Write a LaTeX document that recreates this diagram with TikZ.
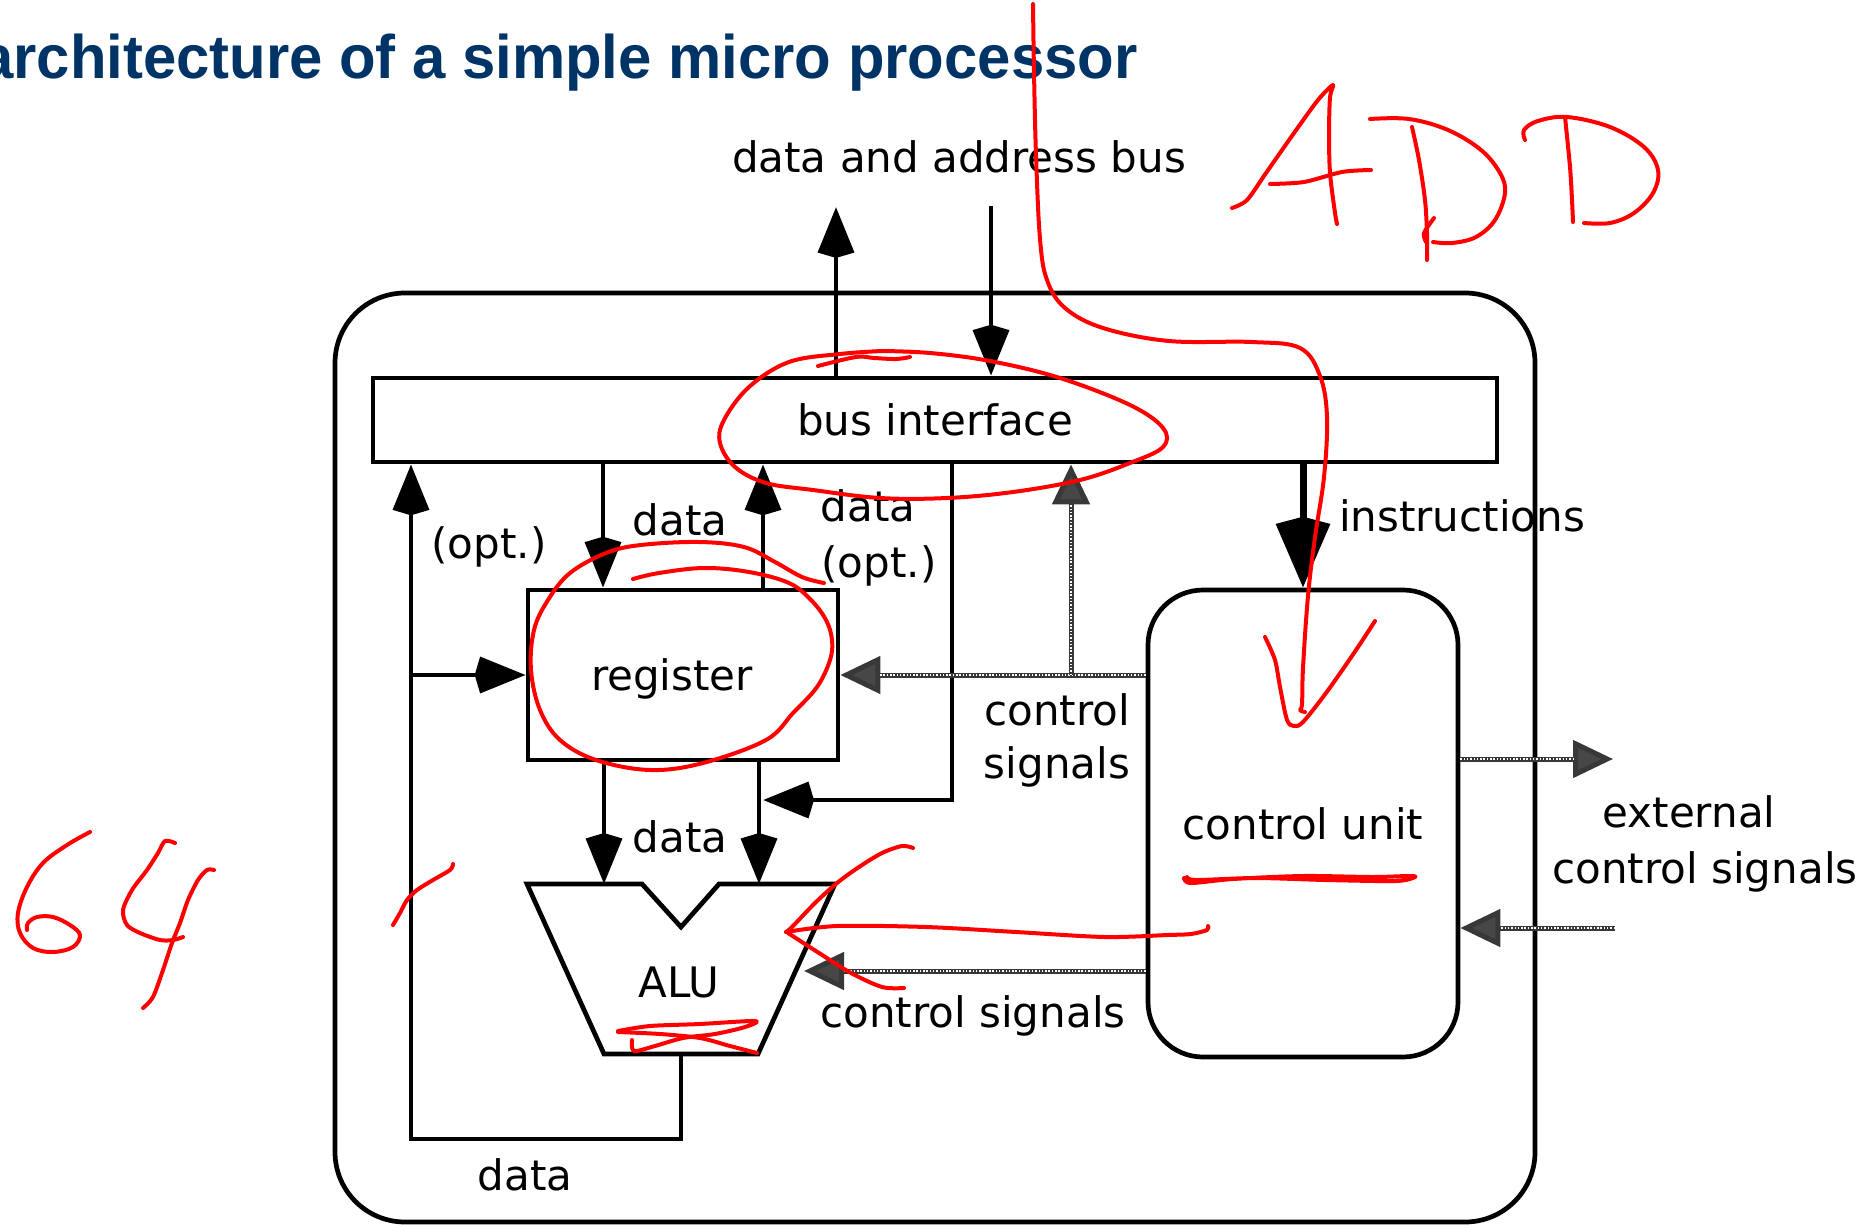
\documentclass[tikz,border=0pt]{standalone}
\usepackage{fontspec}
\usepackage{graphicx}
\setmainfont{DejaVu Sans}
\newfontfamily\headfont{Liberation Sans}
\usetikzlibrary{arrows.meta}

\definecolor{headblue}{RGB}{0,51,102}
\definecolor{pen}{RGB}{255,0,0}

\tikzset{
  wire/.style={line width=4.7pt, line join=miter},
  arr/.style={wire, -{Stealth[length=45pt, width=35pt, inset=-6pt]}},
  bigarr/.style={line width=7pt, -{Stealth[length=63pt, width=52pt, inset=-8pt]}},
  ctl/.style={line width=5pt, draw=black!78,
    -{Triangle[length=40pt, width=37pt, fill=black!72]},
    postaction={draw=white, line width=1.3pt, dash pattern=on 1.5pt off 1.8pt,
      arrows=-, shorten >=40pt}},
  box/.style={draw, line width=4.7pt, inner sep=0pt, font=\fontsize{42pt}{55pt}\selectfont},
  lbl/.style={inner sep=0pt, anchor=base, font=\fontsize{42pt}{55pt}\selectfont},
  ink/.style={draw=pen, line width=4pt, line cap=round, line join=round}
}

\begin{document}
\begin{tikzpicture}[x=1pt, y=-1pt]
\useasboundingbox (0,0) rectangle (1870,1225);

% heading
\node[inner sep=0pt, anchor=base west, text=headblue,
      font=\headfont\bfseries\fontsize{61.5pt}{70pt}\selectfont] (head) at (-20,79)
  {\scalebox{0.973}[1]{architecture of a simple micro processor}};

% processor frame and blocks
\node[draw, line width=4.7pt, rounded corners=70pt, minimum width=1200pt,
      minimum height=929pt, inner sep=0pt] (outer) at (935,757.5) {};
\node[box, minimum width=1124pt, minimum height=84pt] (busif) at (935,420) {bus interface};
\node[box, minimum width=310pt, minimum height=170pt] (reg) at (683,675) {};
\node[lbl] (reglbl) at (672,690) {register};
\node[box, rounded corners=55pt, minimum width=310pt, minimum height=467pt] (cu)
  at (1303,823.5) {control unit};

% ALU outline
\coordinate (alu-tl) at (527,884);
\coordinate (alu-nl) at (642,884);
\coordinate (alu-nb) at (681,927);
\coordinate (alu-nr) at (719,884);
\coordinate (alu-tr) at (835,884);
\coordinate (alu-br) at (758,1054);
\coordinate (alu-bl) at (604,1054);
\draw[wire] (alu-tl) -- (alu-nl) -- (alu-nb) -- (alu-nr) -- (alu-tr) -- (alu-br) -- (alu-bl) -- cycle;
\node[lbl] (alulbl) at (679,997) {ALU};
\coordinate (alu-in1) at (604,884);
\coordinate (alu-in2) at (759,884);
\coordinate (alu-out) at (681,1054);
\coordinate (alu-ctl) at (804,971);

% external bus
\coordinate (busout) at (836,207);
\coordinate (busin) at (991,206);
\draw[arr] (busout |- busif.north) -- (busout);
\draw[arr] (busin) -- (busin |- busif.north);
\node[lbl] (buslbl) at (959,173) {data and address bus};

% data paths
\coordinate (xa) at (603,0);
\coordinate (xb) at (763,0);
\coordinate (xc) at (952,0);
\coordinate (optin) at (763,800);
\draw[arr] (busif.south -| xa) -- (reg.north -| xa);
\draw[arr] (reg.north -| xb) -- (busif.south -| xb);
\draw[arr] (busif.south -| xc) |- (optin);
\draw[arr] (reg.south -| alu-in1) -- (alu-in1);
\draw[arr] (reg.south -| alu-in2) -- (alu-in2);

% result feedback
\coordinate (loop-br) at (681,1139);
\coordinate (loop-bl) at (411,1139);
\coordinate (loop-j) at (411,675);
\draw[arr] (alu-out) -- (loop-br) -- (loop-bl) -- (busif.south -| loop-bl);
\draw[arr] (loop-j) -- (reg.west);

% instructions
\draw[bigarr] (busif.south -| cu.north) -- (cu.north);
\node[lbl] (instlbl) at (1462,531) {instructions};

% control signals
\coordinate (hj) at (1071,675);
\draw[ctl] (cu.west |- reg.east) -- (reg.east);
\draw[ctl] (hj) -- (busif.south -| hj);
\draw[ctl] (cu.west |- alu-ctl) -- (alu-ctl);
\coordinate (extout) at (1613,759);
\coordinate (extin) at (1615,928);
\draw[ctl] (cu.east |- extout) -- (extout);
\draw[ctl] (extin) -- (cu.east |- extin);

% labels
\node[lbl] (l-opt) at (489,558) {(opt.)};
\node[lbl] (l-d1) at (680,535) {data};
\node[lbl] (l-d2) at (868,521) {data};
\node[lbl] (l-opt2) at (879,577) {(opt.)};
\node[lbl] (l-cs1) at (1057,725) {control};
\node[lbl] (l-cs2) at (1057,778) {signals};
\node[lbl] (l-d3) at (680,852) {data};
\node[lbl] (l-cs3) at (973,1027) {control signals};
\node[lbl] (l-ext1) at (1689,827) {external};
\node[lbl] (l-ext2) at (1705,883) {control signals};
\node[lbl] (l-d4) at (525,1190) {data};

% handwritten pen marks
\draw[ink] plot[smooth, tension=0.6] coordinates {(1033,4) (1034,72) (1036,155) (1040,239)
  (1047,280) (1065,308) (1103,328) (1169,341) (1252,342) (1300,348) (1320,376) (1327,417)
  (1324,477) (1315,537) (1308,596) (1303,668) (1302,704) (1300,710) (1305,712)};
\draw[ink] plot[smooth, tension=0.5] coordinates {(1265,637) (1275,660) (1280,687) (1287,720)
  (1294,726) (1303,722) (1326,693) (1354,653) (1375,621)};
% A
\draw[ink] plot[smooth, tension=0.5] coordinates {(1232,208) (1247,200) (1266,173) (1294,133)
  (1318,100) (1333,85) (1330,97) (1329,133) (1330,173) (1335,213) (1337,224)};
\draw[ink] plot[smooth, tension=0.5] coordinates {(1270,184) (1304,182) (1342,172) (1371,170)};
% D
\draw[ink] plot[smooth, tension=0.5] coordinates {(1412,127) (1419,160) (1425,200) (1427,233) (1427,260)};
\draw[ink] plot[smooth, tension=0.5] coordinates {(1434,218) (1424,233) (1426,242)};
\draw[ink] plot[smooth, tension=0.6] coordinates {(1370,119) (1409,119) (1448,130) (1481,150)
  (1500,173) (1505,193) (1495,220) (1476,237) (1452,243) (1433,242)};
% D
\draw[ink] plot[smooth, tension=0.5] coordinates {(1565,117) (1570,167) (1572,200) (1573,222)};
\draw[ink] plot[smooth, tension=0.6] coordinates {(1525,140) (1524,130) (1538,121) (1567,117)
  (1610,127) (1644,147) (1658,170) (1653,193) (1634,213) (1610,223) (1584,223)};
% loop round the bus interface
\draw[ink] plot[smooth, tension=0.6] coordinates {(818,366) (856,357) (874,358) (896,359) (910,357)};
\draw[ink] plot[smooth, tension=0.6] coordinates {(882,351) (930,353) (990,361) (1060,378)
  (1130,405) (1163,428) (1163,447) (1130,463) (1080,480) (1013,492) (947,498) (880,498)
  (813,490) (766,483) (735,467) (720,443) (724,420) (749,387) (789,362) (840,354) (882,351)};
% loop round the register
\draw[ink] plot[smooth, tension=0.6] coordinates {(633,579) (659,573) (704,568) (749,572)
  (789,583) (811,600) (826,620) (832,640) (830,660) (817,687) (793,713) (766,740) (703,763)
  (650,770) (596,760) (560,740) (540,710) (531,670) (534,630) (548,600) (570,573) (606,553)
  (641,545) (699,542) (744,547) (775,562) (802,577) (824,583)};
% arrow mark beside the ALU
\draw[ink] plot[smooth, tension=0.5] coordinates {(913,848) (902,846) (882,853) (859,867)
  (837,883) (815,903) (792,927) (786,932)};
\draw[ink] plot[smooth, tension=0.5] coordinates {(786,932) (837,926) (926,927) (1016,932)
  (1105,937) (1168,935) (1191,934) (1207,930) (1208,926)};
\draw[ink] plot[smooth, tension=0.5] coordinates {(788,933) (819,953) (851,973) (882,987) (904,988)};
% crossing-out in the ALU
\draw[ink] plot[smooth, tension=0.5] coordinates {(618,1031) (650,1026) (700,1024) (755,1021)
  (745,1027) (715,1034) (683,1038) (655,1046) (634,1051) (632,1040)};
\draw[ink] plot[smooth, tension=0.5] coordinates {(618,1032) (660,1034) (700,1038) (730,1046) (757,1053)};
% underline below control unit
\draw[ink] plot[smooth, tension=0.5] coordinates {(1184,878) (1191,883) (1233,879) (1303,876)
  (1373,877) (1408,876) (1415,877) (1396,881) (1326,880) (1256,878) (1196,880) (1187,877)};
% 6
\draw[ink] plot[smooth, tension=0.6] coordinates {(90,832) (67,845) (43,863) (27,887) (18,913)
  (20,933) (33,948) (53,952) (73,947) (80,935) (70,925) (53,917) (37,917) (28,923) (27,930)};
% 4
\draw[ink] plot[smooth, tension=0.5] coordinates {(175,843) (165,841) (158,853) (147,870)
  (132,890) (123,910) (127,925) (140,933) (160,940) (173,940) (183,937)};
\draw[ink] plot[smooth, tension=0.5] coordinates {(214,870) (207,870) (198,880) (188,900)
  (180,923) (172,943) (163,970) (153,997) (143,1008)};
% tick on the feedback line
\draw[ink] plot[smooth, tension=0.5] coordinates {(393,925) (400,913) (407,900) (417,890)
  (433,880) (450,870) (453,864)};
\end{tikzpicture}
\end{document}
